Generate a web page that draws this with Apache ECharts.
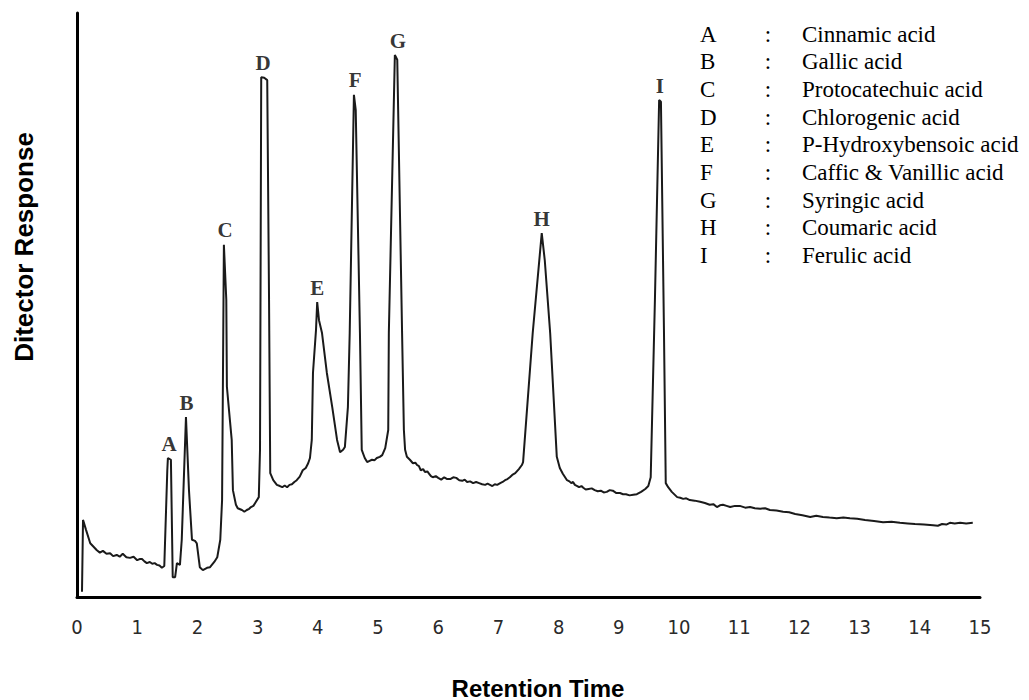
<!DOCTYPE html>
<html>
<head>
<meta charset="utf-8">
<script src="https://cdn.jsdelivr.net/npm/echarts@6/dist/echarts.min.js"></script>
<style>
html,body{margin:0;padding:0;background:#fff;}
#chart{width:1029px;height:700px;}
</style>
</head>
<body>
<div id="chart"></div>
<script>
// Retention time (min) of each trace point
var retentionTimes = [0.083,0.10,0.15,0.22,0.33,0.38,0.43,0.49,0.55,0.60,0.66,0.71,0.76,0.82,0.88,0.94,1.00,1.04,1.08,1.12,1.16,1.21,1.25,1.29,1.33,1.37,1.41,1.45,
1.50,1.51,1.56,1.59,1.63,1.66,1.71,1.74,1.81,1.86,1.91,1.96,1.99,2.04,2.09,2.16,2.21,2.28,2.33,2.38,2.41,
2.44,2.48,2.49,2.54,2.57,2.59,2.64,2.67,2.74,2.78,2.82,2.86,2.89,2.93,2.96,3.02,
3.04,3.06,3.11,3.16,3.19,3.21,3.26,3.32,3.37,3.41,3.45,3.49,3.53,3.57,3.61,3.65,3.70,3.75,3.80,3.84,3.87,3.90,3.92,3.97,
3.99,4.02,4.07,4.15,4.24,4.32,4.37,4.42,4.45,4.50,
4.53,4.60,4.63,4.70,4.73,4.78,4.82,4.86,4.90,4.94,4.98,5.03,5.07,5.12,5.17,5.18,
5.28,5.32,5.40,5.43,5.45,5.48,5.53,5.58,5.62,5.65,5.68,5.71,5.75,5.78,5.82,5.85,5.88,5.91,5.96,6.00,6.05,6.10,6.15,6.20,6.25,6.30,6.35,6.40,6.44,6.48,6.53,6.58,6.63,6.68,6.73,6.78,6.82,6.86,6.90,6.94,6.98,7.03,7.07,7.11,7.15,7.19,7.23,7.28,7.34,7.39,
7.41,7.57,7.72,7.77,7.86,7.97,8.02,8.07,8.14,8.18,8.21,8.24,8.27,8.31,8.34,8.38,8.41,8.45,8.50,8.55,8.60,8.65,8.70,8.75,8.80,8.85,8.90,8.96,9.02,9.07,9.12,9.18,9.24,9.30,9.37,9.44,9.49,
9.53,9.60,9.67,9.70,9.75,9.78,9.82,9.88,9.97,10.02,10.07,10.12,10.18,10.26,10.35,10.43,10.51,10.57,10.63,10.68,10.73,10.79,10.85,10.93,11.01,11.10,11.18,11.26,11.35,11.43,11.51,11.62,11.73,11.83,11.93,12.05,12.18,12.28,12.39,12.50,12.62,12.73,12.84,12.96,13.09,13.24,13.39,13.53,13.67,13.80,13.92,14.07,14.22,14.30,14.37,14.44,14.50,14.58,14.67,14.77,14.88];
// Detector response (arbitrary units) of each trace point
var responses = [0.9,13.2,11.5,9.2,8.0,7.6,7.9,7.4,7.5,7.0,7.2,6.9,7.4,6.8,6.7,6.9,6.3,6.5,6.5,6.1,5.8,6.0,5.7,5.8,5.5,5.4,5.0,5.3,
21.7,23.8,23.5,3.4,3.4,5.8,5.5,9.8,30.8,18.3,9.8,9.6,9.2,5.1,4.6,5.0,5.1,6.0,6.8,9.8,16.6,
60.3,50.9,36.0,30.3,26.9,18.3,15.8,15.2,14.9,14.6,14.9,15.1,15.4,15.6,16.1,17.1,
25.2,89.0,88.9,88.5,50.9,21.2,20.0,19.2,19.0,18.8,19.1,18.8,19.2,19.3,19.7,20.0,20.6,21.7,22.1,22.9,23.8,26.9,38.4,45.7,
50.5,47.4,45.2,38.4,32.5,26.9,24.8,25.2,25.7,32.5,
45.2,86.0,83.4,45.2,25.2,23.8,23.1,23.3,23.5,23.4,23.8,24.0,24.3,25.5,28.6,45.2,
92.8,92.0,45.2,28.6,25.2,24.0,23.5,22.9,23.0,22.6,22.4,21.7,21.9,21.4,21.5,21.1,20.7,20.5,20.7,20.4,20.1,20.5,20.2,20.2,20.5,20.4,20.0,19.9,20.1,19.7,19.8,19.5,19.7,19.5,19.3,19.2,19.4,19.2,19.0,19.3,19.2,19.5,19.7,20.0,20.2,20.5,20.9,21.2,21.9,22.6,
23.1,45.2,62.3,57.7,45.2,24.0,22.1,21.1,20.0,19.8,19.5,19.7,19.2,19.0,18.8,19.0,18.7,18.4,18.5,18.6,18.3,18.1,18.2,17.9,18.0,18.3,18.2,17.8,17.8,17.6,17.6,17.4,17.5,17.6,18.0,18.5,19.0,
20.5,50.9,85.1,84.8,45.7,19.5,18.8,18.0,17.1,17.0,16.8,16.9,16.6,16.5,16.3,16.1,15.8,15.9,15.4,15.7,15.8,15.6,15.4,15.6,15.6,15.3,15.4,15.2,15.1,15.2,14.9,14.8,14.6,14.5,14.2,14.0,13.7,13.9,13.7,13.6,13.5,13.6,13.5,13.4,13.2,13.0,12.8,12.9,12.7,12.6,12.5,12.4,12.3,12.2,12.5,12.4,12.7,12.6,12.7,12.6,12.7];

// Peaks
var peakLetters = ['A','B','C','D','E','F','G','H','I'];
var peakTimes = [1.53,1.82,2.46,3.09,3.99,4.62,5.33,7.72,9.68];
var peakHeights = [23.8,30.8,60.3,89.0,50.5,86.0,92.8,62.3,85.1];
var compoundNames = ['Cinnamic acid','Gallic acid','Protocatechuic acid','Chlorogenic acid','P-Hydroxybensoic acid','Caffic & Vanillic acid','Syringic acid','Coumaric acid','Ferulic acid'];

// Axis tick labels
var xTickLabels = ['0','1','2','3','4','5','6','7','8','9','10','11','12','13','14','15'];

var trace = retentionTimes.map(function(t,i){return [t,responses[i]];});
var peaks = peakTimes.map(function(t,i){return {name:peakLetters[i], value:[t,peakHeights[i]]};});

var graphics = [
  {type:'text', x:24, y:247, rotation:Math.PI/2,
   style:{text:'Ditector Response', font:'bold 26px "Liberation Sans", Arial, sans-serif', fill:'#000', textAlign:'center', textVerticalAlign:'middle'}},
  {type:'text', x:538, y:688,
   style:{text:'Retention Time', font:'bold 24px "Liberation Sans", Arial, sans-serif', fill:'#000', textAlign:'center', textVerticalAlign:'middle'}}
];
peakLetters.forEach(function(l,i){
  var y = 34 + i*27.7;
  graphics.push({type:'text', x:700, y:y, style:{text:l, font:'23px "Liberation Serif", "Times New Roman", serif', fill:'#000', textAlign:'left', textVerticalAlign:'middle'}});
  graphics.push({type:'text', x:768, y:y, style:{text:':', font:'23px "Liberation Serif", "Times New Roman", serif', fill:'#000', textAlign:'center', textVerticalAlign:'middle'}});
  graphics.push({type:'text', x:802, y:y, style:{text:compoundNames[i], font:'23px "Liberation Serif", "Times New Roman", serif', fill:'#000', textAlign:'left', textVerticalAlign:'middle'}});
});

var chart = echarts.init(document.getElementById('chart'), null, {renderer:'svg'});
chart.setOption({
  backgroundColor:'#fff',
  animation:false,
  grid:{left:77, right:49, top:13, bottom:103, containLabel:false},
  xAxis:{
    type:'value', min:0, max:15, interval:1,
    axisLine:{show:true, onZero:false, lineStyle:{color:'#000', width:3}},
    axisTick:{show:false},
    splitLine:{show:false},
    axisLabel:{margin:20, color:'#2a2a2a', fontSize:20, fontFamily:'"Liberation Sans Narrow", "Arial Narrow", "DejaVu Sans Condensed", "Roboto Condensed", sans-serif',
      formatter:function(v){return xTickLabels[Math.round(v)];}}
  },
  yAxis:{
    type:'value', min:0, max:100,
    axisLine:{show:true, onZero:false, lineStyle:{color:'#000', width:3}},
    axisTick:{show:false},
    axisLabel:{show:false},
    splitLine:{show:false}
  },
  graphic:graphics,
  series:[
    {type:'line', data:trace, showSymbol:false, symbol:'none', smooth:false,
     lineStyle:{color:'#1a1a1a', width:2}, z:3},
    {type:'scatter', data:peaks, symbolSize:0, z:4,
     label:{show:true, position:'top', distance:4, formatter:'{b}', color:'#000',
       fontSize:21, fontWeight:'bold', fontFamily:'"Liberation Serif", "Times New Roman", serif'}}
  ]
});
</script>
</body>
</html>
